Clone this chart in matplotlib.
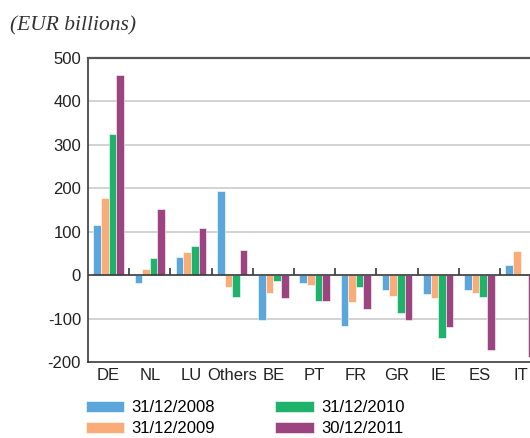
import numpy as np
import matplotlib.pyplot as plt

# Data (EUR billions)
countries = ['DE', 'NL', 'LU', 'Others', 'BE', 'PT', 'FR', 'GR', 'IE', 'ES', 'IT']
dates = ['31/12/2008', '31/12/2009', '31/12/2010', '30/12/2011']
v2008 = [115, -18, 42, 193, -103, -18, -117, -35, -44, -34, 23]
v2009 = [177, 15, 53, -28, -42, -23, -61, -48, -52, -41, 55]
v2010 = [324, 40, 67, -51, -13, -59, -28, -86, -144, -51, 2]
v2011 = [460, 152, 108, 58, -52, -60, -77, -104, -119, -173, -188]
colors = ['#5BA7DC', '#F9AC78', '#1FB26B', '#9B4480']
yticks = [-200, -100, 0, 100, 200, 300, 400, 500]

plt.rcParams['font.family'] = ['Liberation Sans Narrow', 'Liberation Sans', 'DejaVu Sans']

fig = plt.figure(figsize=(5.30, 4.38), dpi=100)
ax = fig.add_axes([0.166, 0.1735, 0.855, 0.694])

x = np.arange(len(countries))
w = 0.185
for i, (vals, c, lab) in enumerate(zip([v2008, v2009, v2010, v2011], colors, dates)):
    ax.bar(x + (i - 1.5) * w, vals, w, color=c, edgecolor='white', linewidth=0.4, label=lab, zorder=3)

ax.set_xlim(-0.5, len(countries) - 0.5)
ax.set_ylim(-200, 500)
ax.set_yticks(yticks)
ax.set_yticklabels([str(t) for t in yticks], fontsize=12, color='#222222')
ax.set_xticks(x)
ax.set_xticklabels(countries, fontsize=12, color='#222222')
ax.tick_params(axis='both', length=0)
ax.tick_params(axis='x', pad=4)
ax.tick_params(axis='y', pad=5)

# grid and zero line
for t in yticks[1:-1]:
    if t != 0:
        ax.axhline(t, color='#d2d2d2', lw=1.4, zorder=1)
ax.axhline(0, color='#3a3a3a', lw=1.2, zorder=4)
# group separators on zero line
ax.vlines(x[:-1] + 0.5, 0, 17, color='#3a3a3a', lw=1.2, zorder=4)

for s in ['left', 'bottom']:
    ax.spines[s].set_color('#2a2a2a')
    ax.spines[s].set_linewidth(1.1)
ax.spines['top'].set_color('#555555')
ax.spines['top'].set_linewidth(1.6)
ax.spines['right'].set_visible(False)

fig.text(0.018, 0.942, '(EUR billions)', fontsize=15.5, style='italic',
         family=['Liberation Serif', 'DejaVu Serif'], color='#333333', va='center')

fig.legend(loc='upper left', bbox_to_anchor=(0.162, 0.086), ncol=2, frameon=False,
           fontsize=12, handlelength=2.3, handleheight=0.65, handletextpad=0.45,
           columnspacing=3.6, labelspacing=0.35, borderpad=0, borderaxespad=0)

plt.savefig('out.png', dpi=100)
